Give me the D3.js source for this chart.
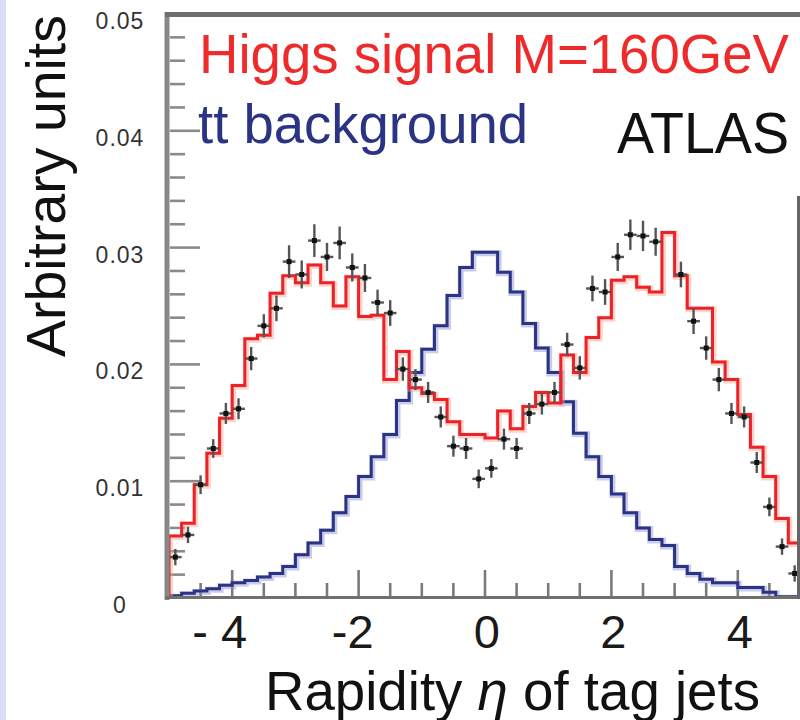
<!DOCTYPE html>
<html><head><meta charset="utf-8">
<script src="https://cdn.jsdelivr.net/npm/d3@7"></script>
<style>body{margin:0;background:#fff} svg{display:block}</style>
</head><body><svg id="c" width="800" height="720"></svg>
<script>
// Rapidity bins of the tag jets: 50 bins of 0.2 from -5 to 5
const etaEdges = d3.range(51).map(i => +(-5 + 0.2 * i).toFixed(1));

// Higgs signal (M = 160 GeV), normalised histogram
const higgsSignal = [
  0.0053, 0.0064, 0.0097, 0.0124, 0.0154, 0.0182, 0.0222, 0.0225, 0.0261, 0.0276,
  0.0270, 0.0285, 0.0270, 0.0250, 0.0275, 0.0241, 0.0242, 0.0187, 0.0211, 0.0180,
  0.0175, 0.0170, 0.0151, 0.0140, 0.0140, 0.0137, 0.0160, 0.0145, 0.0164, 0.0176,
  0.0167, 0.0208, 0.0193, 0.0223, 0.0240, 0.0272, 0.0275, 0.0266, 0.0262, 0.0313,
  0.0276, 0.0248, 0.0248, 0.0202, 0.0187, 0.0157, 0.0129, 0.0104, 0.0068, 0.0047
];

// tt background, normalised histogram
const ttBackground = [
  0.0002, 0.0004, 0.0006, 0.0008, 0.0011, 0.0013, 0.0015, 0.0018, 0.0021, 0.0027,
  0.0037, 0.0047, 0.0058, 0.0073, 0.0087, 0.0104, 0.0121, 0.0140, 0.0169, 0.0193,
  0.0213, 0.0233, 0.0259, 0.0283, 0.0296, 0.0296, 0.0279, 0.0262, 0.0235, 0.0214,
  0.0193, 0.0168, 0.0141, 0.0121, 0.0104, 0.0089, 0.0073, 0.0060, 0.0050, 0.0045,
  0.0027, 0.0021, 0.0016, 0.0013, 0.0013, 0.0009, 0.0009, 0.0005, 0.0001, 0.0001
];

// Points with error bars (null = no point in that bin)
const pointValues = [
  0.0035, 0.0054, 0.0097, 0.0128, 0.0158, 0.0162, 0.0205, 0.0233, 0.0248, 0.0288,
  0.0277, 0.0306, 0.0292, 0.0304, 0.0283, 0.0274, 0.0253, 0.0244, 0.0196, 0.0187,
  0.0176, 0.0155, 0.0130, 0.0128, 0.0102, 0.0111, 0.0136, 0.0128, 0.0158, 0.0166,
  0.0176, 0.0217, 0.0197, 0.0265, 0.0262, 0.0292, 0.0311, 0.0310, 0.0305, null,
  0.0277, 0.0237, 0.0214, 0.0187, 0.0158, 0.0155, 0.0116, 0.0078, 0.0044, 0.0021
];
const pointErrors = [
  0.0007, 0.0007, 0.0008, 0.0008, 0.0009, 0.0009, 0.0010, 0.0010, 0.0011, 0.0014,
  0.0012, 0.0014, 0.0012, 0.0014, 0.0012, 0.0012, 0.0011, 0.0011, 0.0010, 0.0009,
  0.0009, 0.0009, 0.0009, 0.0009, 0.0008, 0.0008, 0.0009, 0.0009, 0.0009, 0.0009,
  0.0009, 0.0010, 0.0010, 0.0011, 0.0011, 0.0012, 0.0013, 0.0013, 0.0012, 0,
  0.0011, 0.0011, 0.0010, 0.0010, 0.0009, 0.0009, 0.0009, 0.0008, 0.0007, 0.0007
];
const pointHalfWidth = 0.1;

const yMajorTicks = [0, 0.01, 0.02, 0.03, 0.04, 0.05];
const yTickLabels = ["0", "0.01", "0.02", "0.03", "0.04", "0.05"];
const xMajorTicks = [-4, -2, 0, 2, 4];
const xTickLabels = ["- 4", "-2", "0", "2", "4"];

const FONT = "'Liberation Sans', Arial, sans-serif";
const svg = d3.select("#c");

const x = d3.scaleLinear().domain([-5, 5]).range([169, 801]);
const y = d3.scaleLinear().domain([0, 0.05]).range([598, 14]);

// light edge strip on the far left
svg.append("rect").attr("x", 0).attr("y", 0).attr("width", 6).attr("height", 720).attr("fill", "#dcdcf6");

svg.append("defs").append("clipPath").attr("id", "plot")
  .append("rect").attr("x", 167).attr("y", 14).attr("width", 633).attr("height", 585);

// y ticks: minor every 0.002, long ones at each 0.01
const yMinor = d3.range(0, 0.0501, 0.002).filter(v => v > 0.0001 && v < 0.0499);
svg.append("g").selectAll("line").data(yMinor).join("line")
  .attr("x1", 170).attr("y1", d => y(d)).attr("x2", d => (Math.abs(d * 100 - Math.round(d * 100)) < 1e-6) ? 200 : 185).attr("y2", d => y(d))
  .attr("stroke", "#8a8a8a").attr("stroke-width", 2.6);

// x ticks: minor every 0.5, long ones at each 2
const xMinor = d3.range(-4.5, 5, 0.5);
svg.append("g").selectAll("line").data(xMinor).join("line")
  .attr("x1", d => x(d)).attr("x2", d => x(d)).attr("y1", 598)
  .attr("y2", d => (Math.abs(d / 2 - Math.round(d / 2)) < 1e-6) ? 570 : 583)
  .attr("stroke", "#7a7a7a").attr("stroke-width", 2.6);

// histograms drawn as steps
function stepPoints(vals) {
  const pts = [[etaEdges[0], 0]];
  vals.forEach((v, i) => { pts.push([etaEdges[i], v]); pts.push([etaEdges[i + 1], v]); });
  pts.push([etaEdges[etaEdges.length - 1], 0]);
  return pts;
}
const line = d3.line().x(d => x(d[0])).y(d => y(d[1]));
const plot = svg.append("g").attr("clip-path", "url(#plot)");

function drawHist(vals, halo, main) {
  const p = line(stepPoints(vals));
  plot.append("path").attr("d", p).attr("fill", "none").attr("stroke", halo)
    .attr("stroke-width", 6).attr("stroke-opacity", 0.45).attr("transform", "translate(1,1)");
  plot.append("path").attr("d", p).attr("fill", "none").attr("stroke", main)
    .attr("stroke-width", 3).attr("stroke-linejoin", "miter");
}
drawHist(ttBackground, "#8c8fd0", "#2a3384");
drawHist(higgsSignal, "#f8a08c", "#ec2228");

// points with error bars
const pts = pointValues.map((v, i) => ({
  c: (etaEdges[i] + etaEdges[i + 1]) / 2, v, e: pointErrors[i]
})).filter(d => d.v !== null);
const pg = plot.append("g");
pg.selectAll("line.v").data(pts).join("line").attr("class", "v")
  .attr("x1", d => x(d.c)).attr("x2", d => x(d.c))
  .attr("y1", d => y(d.v - d.e)).attr("y2", d => y(d.v + d.e))
  .attr("stroke", "#555").attr("stroke-width", 2.4);
pg.selectAll("line.h").data(pts).join("line").attr("class", "h")
  .attr("x1", d => x(d.c - pointHalfWidth)).attr("x2", d => x(d.c + pointHalfWidth))
  .attr("y1", d => y(d.v)).attr("y2", d => y(d.v))
  .attr("stroke", "#555").attr("stroke-width", 2.4);
pg.selectAll("rect").data(pts).join("rect")
  .attr("x", d => x(d.c) - 2.5).attr("y", d => y(d.v) - 2.5).attr("width", 5).attr("height", 5)
  .attr("fill", "#111");

// frame
svg.append("line").attr("x1", 167).attr("x2", 167).attr("y1", 12).attr("y2", 600)
  .attr("stroke", "#888").attr("stroke-width", 5);
svg.append("line").attr("x1", 165).attr("x2", 800).attr("y1", 14.5).attr("y2", 14.5)
  .attr("stroke", "#6e6e6e").attr("stroke-width", 5);
svg.append("line").attr("x1", 165).attr("x2", 800).attr("y1", 597.5).attr("y2", 597.5)
  .attr("stroke", "#707070").attr("stroke-width", 3);
svg.append("line").attr("x1", 798.5).attr("x2", 798.5).attr("y1", 196).attr("y2", 599)
  .attr("stroke", "#666").attr("stroke-width", 3);

// y tick labels
svg.append("g").selectAll("text").data(yMajorTicks).join("text")
  .attr("x", 120).attr("y", d => y(d) + 15)
  .attr("text-anchor", "middle").attr("font-family", FONT).attr("font-size", 23)
  .attr("letter-spacing", 1).attr("fill", "#333")
  .text((d, i) => yTickLabels[i]);

// x tick labels
svg.append("g").selectAll("text").data(xMajorTicks).join("text")
  .attr("x", d => x(d) + 15).attr("y", 648)
  .attr("text-anchor", "end").attr("font-family", FONT).attr("font-size", 47)
  .attr("fill", "#1a1a1a").attr("xml:space", "preserve").style("white-space", "pre")
  .text((d, i) => xTickLabels[i]);

// axis titles
const xt = svg.append("text").attr("x", 265).attr("y", 710)
  .attr("font-family", FONT).attr("font-size", 55).attr("fill", "#111")
  .attr("textLength", 495).attr("lengthAdjust", "spacingAndGlyphs");
xt.append("tspan").text("Rapidity ");
xt.append("tspan").attr("font-style", "italic").text("η");
xt.append("tspan").text(" of tag jets");

svg.append("text").attr("transform", "translate(65,186) rotate(-90)")
  .attr("text-anchor", "middle").attr("font-family", FONT).attr("font-size", 55).attr("fill", "#111")
  .attr("textLength", 342).attr("lengthAdjust", "spacingAndGlyphs")
  .text("Arbitrary units");

// legend and label
svg.append("text").attr("x", 199).attr("y", 73).attr("font-family", FONT).attr("font-size", 56)
  .attr("fill", "#ee2a2a").attr("textLength", 590).attr("lengthAdjust", "spacingAndGlyphs")
  .text("Higgs signal M=160GeV");
svg.append("text").attr("x", 198).attr("y", 143).attr("font-family", FONT).attr("font-size", 56)
  .attr("fill", "#2a3384").attr("textLength", 330).attr("lengthAdjust", "spacingAndGlyphs")
  .text("tt background");
svg.append("text").attr("x", 617).attr("y", 153).attr("font-family", FONT).attr("font-size", 58)
  .attr("fill", "#111").attr("textLength", 172).attr("lengthAdjust", "spacingAndGlyphs")
  .text("ATLAS");
</script></body></html>
